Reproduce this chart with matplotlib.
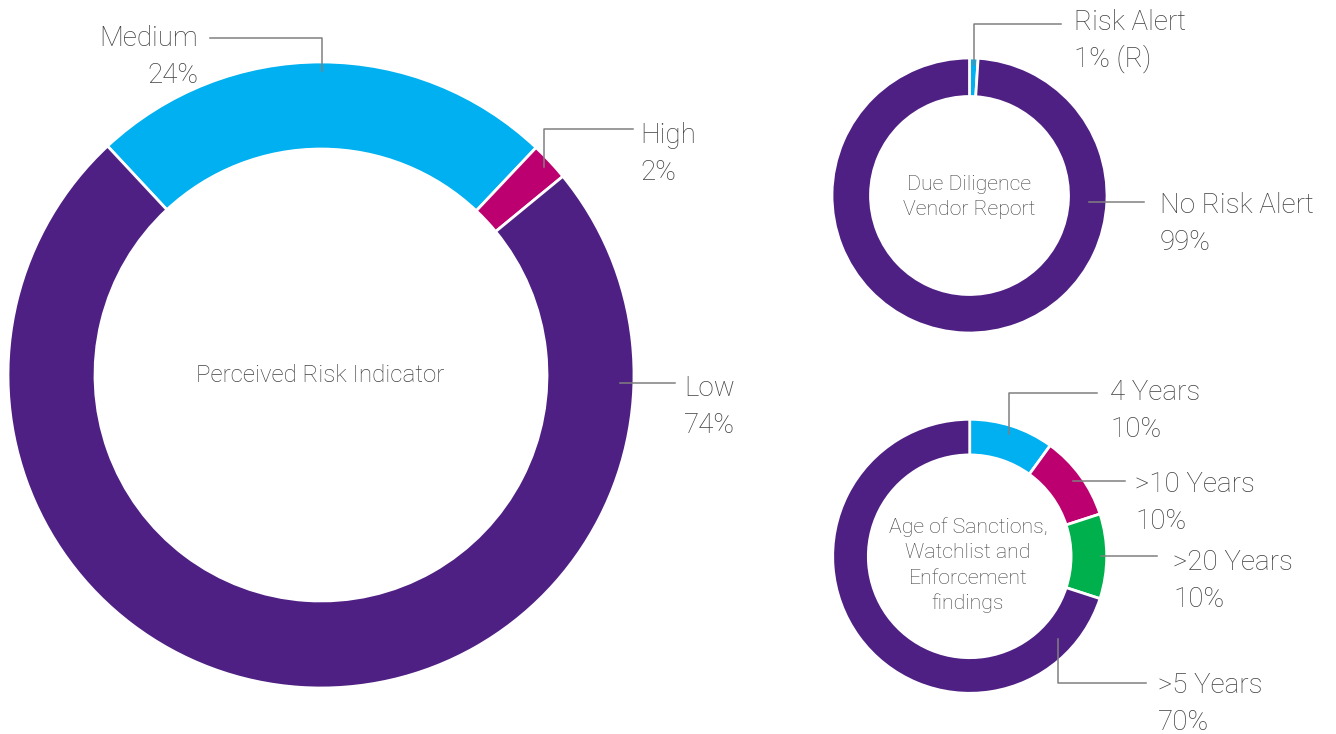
import numpy as np
import matplotlib
matplotlib.use("Agg")
import matplotlib.pyplot as plt
from matplotlib.lines import Line2D

# data
risk_labels = ['Medium', 'High', 'Low']
risk_values = [24, 2, 74]
vendor_labels = ['Risk Alert', 'No Risk Alert']
vendor_values = [1, 99]
vendor_suffix = [' (R)', '']
age_labels = ['4 Years', '>10 Years', '>20 Years', '>5 Years']
age_values = [10, 10, 10, 70]

PURPLE = '#4f2083'
BLUE = '#00b0f0'
MAGENTA = '#bd0070'
GREEN = '#00b04c'
TEXT = '#404040'
GREY = '#808080'
FONT = 'Roboto'

W, H = 1336, 734
fig = plt.figure(figsize=(W / 100, H / 100), dpi=100)


def fx(x):
    return x / W


def fy(y):
    return 1 - y / H


def donut(cx, cy, r, width, values, colors, start):
    # axes box placed in pixels so the ring lands where it is in the picture
    ax = fig.add_axes([fx(cx - r), fy(cy + r), 2 * r / W, 2 * r / H])
    wedges, _ = ax.pie(values, colors=colors, startangle=start, counterclock=False,
                       wedgeprops=dict(width=width, edgecolor='white', linewidth=2))
    ax.set_xlim(-1, 1)
    ax.set_ylim(-1, 1)
    ax.axis('off')
    return ax, wedges


def anchor(ax, wedge, frac, angle=None):
    if angle is None:
        angle = (wedge.theta1 + wedge.theta2) / 2
    t = np.deg2rad(angle)
    x, y = ax.transData.transform((frac * np.cos(t), frac * np.sin(t)))
    return x, H - y


def leader(ax, wedge, frac, end_x, elbow_y=None, angle=None):
    x0, y0 = anchor(ax, wedge, frac, angle)
    if elbow_y is None:
        xs, ys = [x0, end_x], [y0, y0]
    else:
        xs, ys = [x0, x0, end_x], [y0, elbow_y, elbow_y]
    fig.add_artist(Line2D([fx(v) for v in xs], [fy(v) for v in ys],
                          transform=fig.transFigure, color=GREY, lw=1.1))


def label(x, y, name, pct, ha='left', size=20):
    for i, s in enumerate([name, pct]):
        base = y + i * 37 + 0.36 * size * 100 / 72
        fig.text(fx(x), fy(base), s, ha=ha, va='baseline', fontsize=size,
                 color=TEXT, family=FONT, weight='light')


def centre(x, y, lines, gap, size):
    y0 = y - gap * (len(lines) - 1) / 2
    for i, s in enumerate(lines):
        base = y0 + i * gap + 0.36 * size * 100 / 72
        fig.text(fx(x), fy(base), s, ha='center', va='baseline', fontsize=size,
                 color=TEXT, family=FONT, weight='light')


# Perceived Risk Indicator
ax1, w1 = donut(321, 375, 313, 0.278, risk_values, [BLUE, MAGENTA, PURPLE], 133)
leader(ax1, w1[0], 0.97, 210, elbow_y=38)
leader(ax1, w1[1], 0.975, 633, elbow_y=128.5)
leader(ax1, w1[2], 0.955, 675, angle=-1.5)
label(198, 36, risk_labels[0], '%d%%' % risk_values[0], ha='right')
label(640, 133, risk_labels[1], '%d%%' % risk_values[1])
label(684, 386, risk_labels[2], '%d%%' % risk_values[2])
centre(320, 373, ['Perceived Risk Indicator'], 0, 17.4)

# Due Diligence Vendor Report
ax2, w2 = donut(969.5, 195.5, 137.5, 0.28, vendor_values, [BLUE, PURPLE], 90)
leader(ax2, w2[0], 0.95, 1061, elbow_y=24)
leader(ax2, w2[1], 0.87, 1144, angle=-3)
label(1074, 20, vendor_labels[0], '%d%%%s' % (vendor_values[0], vendor_suffix[0]))
label(1160, 203, vendor_labels[1], '%d%%%s' % (vendor_values[1], vendor_suffix[1]))
centre(969, 194.5, ['Due Diligence', 'Vendor Report'], 25, 15.3)

# Age of Sanctions
ax3, w3 = donut(969.7, 556.3, 137, 0.26, age_values, [BLUE, MAGENTA, GREEN, PURPLE], 90)
leader(ax3, w3[0], 0.94, 1097, elbow_y=393)
leader(ax3, w3[1], 0.93, 1125)
leader(ax3, w3[2], 0.96, 1157)
leader(ax3, w3[3], 0.88, 1146, elbow_y=683, angle=-43)
label(1110, 390, age_labels[0], '%d%%' % age_values[0])
label(1135, 482, age_labels[1], '%d%%' % age_values[1])
label(1173, 560, age_labels[2], '%d%%' % age_values[2])
label(1158, 683, age_labels[3], '%d%%' % age_values[3])
centre(968, 563.5, ['Age of Sanctions,', 'Watchlist and', 'Enforcement', 'findings'], 25.5, 15.3)

fig.savefig('out.png', dpi=100, facecolor='white')
